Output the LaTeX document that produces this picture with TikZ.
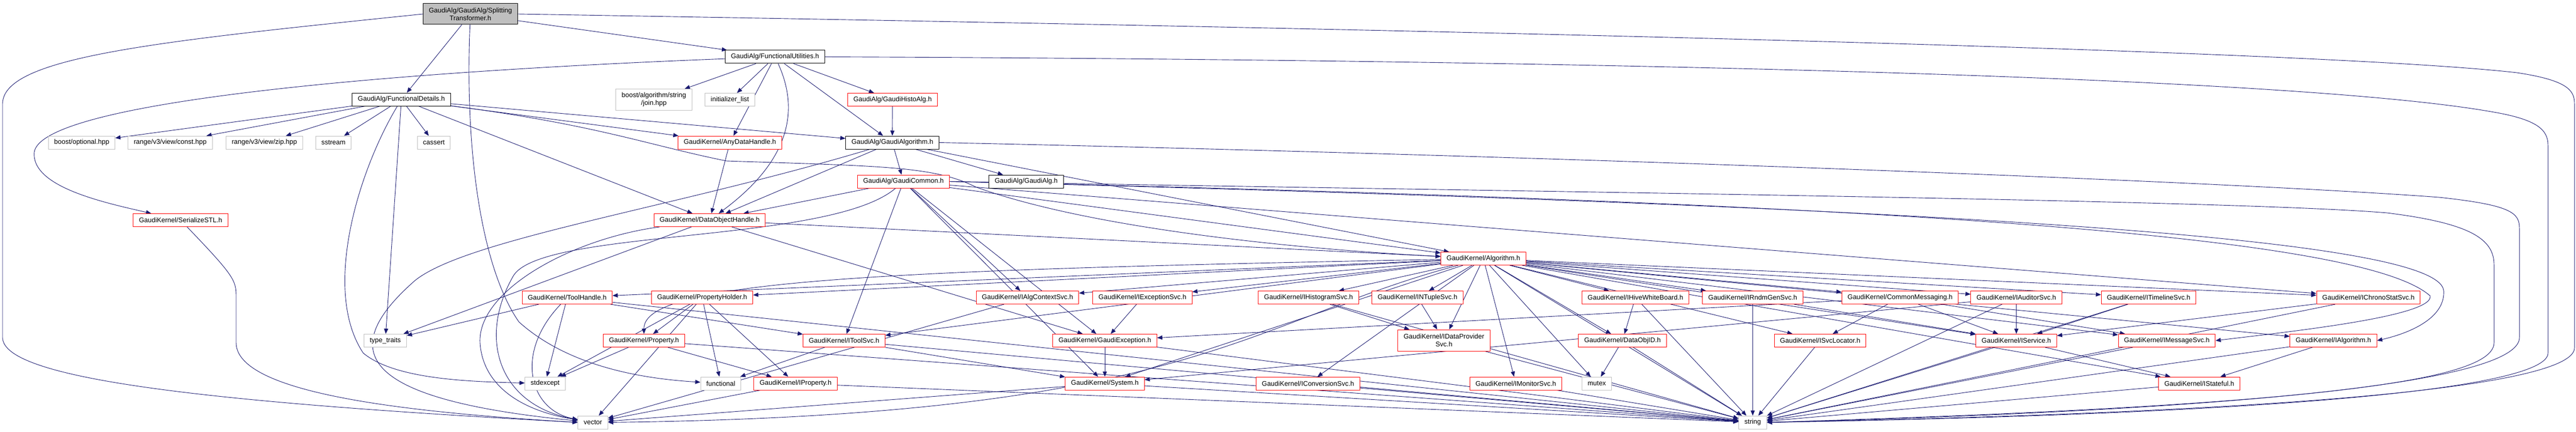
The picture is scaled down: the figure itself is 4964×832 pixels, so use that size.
\documentclass[tikz,border=0pt]{standalone}
\usepackage{fontspec}
\setmainfont{Liberation Sans}
\usepackage{tikz}
\usetikzlibrary{arrows.meta}

\definecolor{depblue}{HTML}{191970}
\definecolor{boxgrey}{HTML}{BFBFBF}

\pgfdeclarelayer{background}
\pgfsetlayers{background,main}

\begin{document}
\begin{tikzpicture}[x=1pt, y=-1pt,
  hdr/.style={draw, line width=1pt, font=\fontsize{13}{15}\selectfont, inner xsep=11pt, inner ysep=3pt, minimum height=25pt, align=center, fill=white},
  redhdr/.style={hdr, draw=red},
  greyhdr/.style={hdr, draw=boxgrey},
  blkhdr/.style={hdr, draw=black},
  roothdr/.style={hdr, draw=black, fill=boxgrey, minimum height=40pt},
  twoline/.style={minimum height=41pt},
  dep/.style={draw=depblue, line width=0.9pt, -{Triangle[length=10pt,width=8pt]}}]

\useasboundingbox (0,0) rectangle (4964,832);

% top rows
\node[roothdr] (st) at (906.5,27) {GaudiAlg/GaudiAlg/Splitting\\Transformer.h};
\node[blkhdr] (fu) at (1493.5,109.5) {GaudiAlg/FunctionalUtilities.h};
\node[blkhdr] (fd) at (773.5,191.5) {GaudiAlg/FunctionalDetails.h};
\node[greyhdr, twoline] (join) at (1260,192) {boost/algorithm/string\\/join.hpp};
\node[greyhdr] (initl) at (1406.5,192) {initializer\_list};
\node[redhdr] (histo) at (1720,192) {GaudiAlg/GaudiHistoAlg.h};

\node[greyhdr] (bopt) at (157.5,274.5) {boost/optional.hpp};
\node[greyhdr] (rconst) at (328,274.5) {range/v3/view/const.hpp};
\node[greyhdr] (rzip) at (509.5,274.5) {range/v3/view/zip.hpp};
\node[greyhdr] (sstream) at (642.5,274.5) {sstream};
\node[greyhdr] (cassert) at (836,274.5) {cassert};
\node[redhdr] (anydh) at (1406.5,274.5) {GaudiKernel/AnyDataHandle.h};
\node[blkhdr] (galgo) at (1719.5,274.5) {GaudiAlg/GaudiAlgorithm.h};

\node[redhdr] (gcommon) at (1741,349.5) {GaudiAlg/GaudiCommon.h};
\node[blkhdr] (galg) at (1977.5,349.5) {GaudiAlg/GaudiAlg.h};

\node[redhdr] (serial) at (348,424) {GaudiKernel/SerializeSTL.h};
\node[redhdr] (doh) at (1367.5,424) {GaudiKernel/DataObjectHandle.h};
\node[redhdr] (algorithm) at (2858.5,498) {GaudiKernel/Algorithm.h};

% row of services
\node[redhdr] (toolh) at (1093,573) {GaudiKernel/ToolHandle.h};
\node[redhdr] (propholder) at (1353,573) {GaudiKernel/PropertyHolder.h};
\node[redhdr] (ialgctx) at (1980,573) {GaudiKernel/IAlgContextSvc.h};
\node[redhdr] (iexc) at (2201.5,573) {GaudiKernel/IExceptionSvc.h};
\node[redhdr] (ihisto) at (2521.5,573) {GaudiKernel/IHistogramSvc.h};
\node[redhdr] (intuple) at (2731.5,573) {GaudiKernel/INTupleSvc.h};
\node[redhdr] (ihive) at (3151.5,573) {GaudiKernel/IHiveWhiteBoard.h};
\node[redhdr] (irndm) at (3377.5,573) {GaudiKernel/IRndmGenSvc.h};
\node[redhdr] (cmsg) at (3661.5,573) {GaudiKernel/CommonMessaging.h};
\node[redhdr] (iaud) at (3885.5,573) {GaudiKernel/IAuditorSvc.h};
\node[redhdr] (itime) at (4140.5,573) {GaudiKernel/ITimelineSvc.h};
\node[redhdr] (ichrono) at (4564,573) {GaudiKernel/IChronoStatSvc.h};

\node[greyhdr] (typetraits) at (742.5,656) {type\_traits};
\node[redhdr] (property) at (1241,656) {GaudiKernel/Property.h};
\node[redhdr] (itoolsvc) at (1626.5,656) {GaudiKernel/IToolSvc.h};
\node[redhdr] (gexc) at (2129,656) {GaudiKernel/GaudiException.h};
\node[redhdr, twoline] (idp) at (2782.5,655.5) {GaudiKernel/IDataProvider\\Svc.h};
\node[redhdr] (dataobjid) at (3126.5,656) {GaudiKernel/DataObjID.h};
\node[redhdr] (isvcloc) at (3507.5,656) {GaudiKernel/ISvcLocator.h};
\node[redhdr] (iservice) at (3885.5,656) {GaudiKernel/IService.h};
\node[redhdr] (imsg) at (4175.5,656) {GaudiKernel/IMessageSvc.h};
\node[redhdr] (ialgorithm) at (4496.5,656) {GaudiKernel/IAlgorithm.h};

\node[greyhdr] (stdexcept) at (1050.5,738.5) {stdexcept};
\node[greyhdr] (functional) at (1389,738.5) {functional};
\node[redhdr] (iproperty) at (1533,738.5) {GaudiKernel/IProperty.h};
\node[redhdr] (system) at (2129,738.5) {GaudiKernel/System.h};
\node[redhdr] (iconv) at (2520.5,738.5) {GaudiKernel/IConversionSvc.h};
\node[redhdr] (imonitor) at (2921,738.5) {GaudiKernel/IMonitorSvc.h};
\node[greyhdr] (mutex) at (3077,738.5) {mutex};
\node[redhdr] (istateful) at (4238,738.5) {GaudiKernel/IStateful.h};

\node[greyhdr] (vector) at (1142.5,813.5) {vector};
\node[greyhdr] (string) at (3377.5,813.5) {string};

\begin{pgfonlayer}{background}
% straight dependencies
\foreach \a/\b in {st/fd, st/fu,
  fu/join, fu/initl, fu/histo, fu/galgo, fu/anydh,
  fd/bopt, fd/rconst, fd/rzip, fd/sstream, fd/cassert, fd/typetraits, fd/anydh, fd/galgo, fd/doh,
  histo/galgo, anydh/doh,
  galgo/gcommon, galgo/galg, galgo/doh, galgo/algorithm,
  gcommon/doh, gcommon/ialgctx, gcommon/gexc, gcommon/system, gcommon/itoolsvc, gcommon/algorithm, gcommon/ichrono,
  doh/algorithm, doh/typetraits, doh/gexc,
  algorithm/toolh, algorithm/propholder, algorithm/itoolsvc, algorithm/ialgctx,
  algorithm/iexc, algorithm/ihisto, algorithm/intuple, algorithm/idp, algorithm/imonitor, algorithm/mutex,
  algorithm/dataobjid, algorithm/ihive, algorithm/irndm, algorithm/cmsg, algorithm/iaud, algorithm/itime,
  algorithm/ichrono, algorithm/isvcloc, algorithm/iservice, algorithm/imsg, algorithm/ialgorithm,
  algorithm/istateful, algorithm/string, algorithm/iconv, algorithm/system,
  toolh/typetraits, toolh/stdexcept, toolh/itoolsvc, toolh/string,
  propholder/stdexcept, propholder/property, propholder/vector, propholder/functional, propholder/iproperty,
  property/stdexcept, property/iproperty, property/string,
  itoolsvc/functional, itoolsvc/system, itoolsvc/string,
  iproperty/vector, iproperty/string,
  gexc/system, gexc/string, system/string, system/vector,
  ialgctx/vector, iexc/gexc, ihisto/idp, ihisto/string, intuple/idp, idp/string,
  ihive/dataobjid, ihive/string, dataobjid/mutex, dataobjid/string, imonitor/string,
  irndm/iservice, irndm/string, cmsg/isvcloc, cmsg/iservice, cmsg/imsg, cmsg/gexc,
  iaud/iservice, iaud/string, iaud/system, iconv/string, itime/iservice, itime/string,
  isvcloc/string, iservice/string, iservice/istateful, imsg/string,
  ialgorithm/istateful, ialgorithm/string, ichrono/iservice, ichrono/string, istateful/string}
{
\draw[dep] (\a) -- (\b);
}

% long curved dependencies
\draw[dep] (st.west) .. controls (300,80) and (5,110) .. (5,200) -- (5,650) .. controls (5,730) and (400,775) .. (vector.west);
\draw[dep] (st.east) .. controls (3000,60) and (4500,100) .. (4850,140) .. controls (4950,155) and (4961,175) .. (4961,200) -- (4961,670) .. controls (4961,730) and (4600,790) .. (string.east);
\draw[dep] (fu.east) .. controls (3000,115) and (4400,145) .. (4800,215) .. controls (4890,230) and (4910,250) .. (4910,280) -- (4910,680) .. controls (4910,740) and (4500,795) .. (string.east);
\draw[dep] (galgo.east) .. controls (3000,300) and (4300,350) .. (4700,380) .. controls (4840,395) and (4855,410) .. (4855,440) -- (4855,650) .. controls (4855,720) and (4500,785) .. (string.east);
\draw[dep] (gcommon.east) .. controls (3000,370) and (4300,385) .. (4600,410) .. controls (4760,430) and (4806,460) .. (4806,510) -- (4806,660) .. controls (4806,730) and (4500,780) .. (string.east);
\draw[dep] (gcommon.east) .. controls (3600,390) and (4550,450) .. (4683,570) .. controls (4690,610) and (4400,640) .. (imsg.east);
\draw[dep] (gcommon.east) .. controls (3800,400) and (4700,460) .. (4709,560) .. controls (4712,610) and (4650,640) .. (ialgorithm.east);

\draw[dep] (fu) .. controls (700,140) and (80,200) .. (66,293) .. controls (60,360) and (200,390) .. (serial);
\draw[dep] (serial) .. controls (450,530) and (455,540) .. (455,570) -- (455,660) .. controls (455,760) and (800,795) .. (vector.west);
\draw[dep] (st) .. controls (895,300) and (930,520) .. (1000,620) .. controls (1100,710) and (1250,730) .. (functional);
\draw[dep] (fd) .. controls (690,330) and (620,560) .. (700,680) .. controls (760,730) and (900,735) .. (stdexcept);
\draw[dep] (fd) .. controls (1150,240) and (1250,280) .. (1400,310) .. controls (1700,320) and (1800,320) .. (1880,360) .. controls (2100,440) and (2500,480) .. (algorithm);
\draw[dep] (fu) .. controls (1535,200) and (1535,300) .. (doh);
\draw[dep] (galgo) .. controls (1300,400) and (900,460) .. (800,540) .. controls (640,680) and (700,770) .. (vector);
\draw[dep] (doh) .. controls (1100,460) and (920,560) .. (925,660) .. controls (930,740) and (1000,790) .. (vector);
\draw[dep] (gcommon) .. controls (1600,470) and (1050,440) .. (990,530) .. controls (920,650) and (960,780) .. (vector);
\draw[dep] (toolh) .. controls (990,680) and (1020,790) .. (vector);
\draw[dep] (algorithm) .. controls (1700,520) and (1240,540) .. (property);
\draw[dep] (algorithm) .. controls (2400,620) and (2300,800) .. (vector.east);
\end{pgfonlayer}

\end{tikzpicture}
\end{document}
